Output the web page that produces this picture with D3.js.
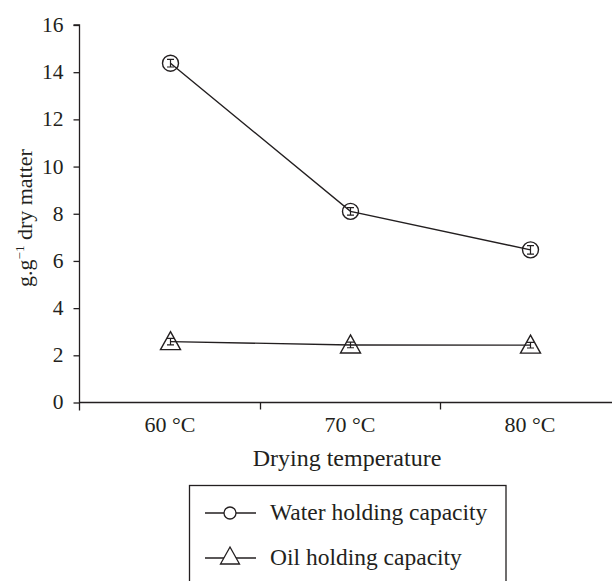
<!DOCTYPE html>
<html><head><meta charset="utf-8">
<script src="https://cdn.jsdelivr.net/npm/d3@7"></script>
<style>body{margin:0;background:#fff}svg{display:block}text{font-family:"Liberation Serif","Times New Roman",serif;fill:#231f20}</style>
</head><body><svg id="c" width="612" height="581"></svg>
<script>
const categories = ["60 °C", "70 °C", "80 °C"];
const waterValues = [14.38, 8.1, 6.47];
const waterErrors = [0.16, 0.16, 0.18];
const oilValues = [2.58, 2.44, 2.43];
const oilErrors = [0.14, 0.12, 0.12];
const yTicks = [0, 2, 4, 6, 8, 10, 12, 14, 16];
const seriesNames = ["Water holding capacity", "Oil holding capacity"];

const ink = "#231f20";
const svg = d3.select("#c");
const x = d3.scaleBand().domain(categories).range([80, 620]);
const y = d3.scaleLinear().domain([0, 16]).range([402.5, 25]);

// y axis
const ya = svg.append("g").attr("transform", "translate(79.5,0)")
  .call(d3.axisLeft(y).tickValues(yTicks).tickSize(6).tickPadding(10).tickFormat(d3.format("d")));
ya.select(".domain").attr("d", `M-6,${y(16)}H0V${y(0)+8}`).attr("stroke", ink).attr("stroke-width", 1.3);
ya.selectAll(".tick line").attr("stroke", ink).attr("stroke-width", 1.3);
ya.selectAll(".tick text").attr("font-size", 21.5).attr("fill", ink).attr("font-family", "Liberation Serif").attr("dy", "0.3em");

// x axis
const xa = svg.append("g").attr("transform", `translate(0,${y(0)})`)
  .call(d3.axisBottom(x).tickSize(0).tickPadding(14));
xa.select(".domain").attr("d", "M79.5,0H620").attr("stroke", ink).attr("stroke-width", 1.3);
xa.selectAll(".tick text").attr("font-size", 22).attr("fill", ink).attr("font-family", "Liberation Serif");
const bounds = categories.slice(1).map(c => x(c));
svg.append("g").selectAll("line").data(bounds).join("line")
  .attr("x1", d => d + 0.5).attr("x2", d => d + 0.5)
  .attr("y1", y(0)).attr("y2", y(0) + 7).attr("stroke", ink).attr("stroke-width", 1.3);

// labels
svg.append("text").attr("transform", `translate(32,218) rotate(-90)`).attr("text-anchor", "middle")
  .attr("font-size", 22).html('g.g<tspan dy="-8" font-size="13">−1</tspan><tspan dy="8"> dry matter</tspan>');
svg.append("text").attr("x", 347).attr("y", 466).attr("text-anchor", "middle").attr("font-size", 24)
  .text("Drying temperature");

const cx = c => x(c) + x.bandwidth() / 2 + 0.5;
const line = d3.line().x(d => cx(d.c)).y(d => y(d.v));
const water = categories.map((c, i) => ({c, v: waterValues[i], e: waterErrors[i]}));
const oil = categories.map((c, i) => ({c, v: oilValues[i], e: oilErrors[i]}));

function drawSeries(data, shape) {
  svg.append("path").datum(data).attr("d", line).attr("fill", "none").attr("stroke", ink).attr("stroke-width", 1.4);
  const g = svg.append("g").selectAll("g").data(data).join("g");
  if (shape === "circle") {
    g.append("circle").attr("cx", d => cx(d.c)).attr("cy", d => y(d.v)).attr("r", 8)
      .attr("fill", "none").attr("stroke", ink).attr("stroke-width", 1.4);
  } else {
    g.append("path").attr("d", d => {
      const px = cx(d.c), py = y(d.v) + 1;
      return `M${px},${py - 11}L${px + 10},${py + 7}L${px - 10},${py + 7}Z`;
    }).attr("fill", "none").attr("stroke", ink).attr("stroke-width", 1.4);
  }
  // error bars
  g.append("path").attr("d", d => {
    const px = cx(d.c), t = y(d.v + d.e), b = y(d.v - d.e);
    return `M${px - 3.5},${t}H${px + 3.5}M${px},${t}V${b}M${px - 3.5},${b}H${px + 3.5}`;
  }).attr("fill", "none").attr("stroke", ink).attr("stroke-width", 1.2);
}
drawSeries(water, "circle");
drawSeries(oil, "triangle");

// legend
const lg = svg.append("g");
lg.append("rect").attr("x", 189.5).attr("y", 485.5).attr("width", 316.5).attr("height", 110)
  .attr("fill", "none").attr("stroke", ink).attr("stroke-width", 1.3);
const ly = [513, 558];
seriesNames.forEach((n, i) => {
  lg.append("line").attr("x1", 205).attr("x2", 256).attr("y1", ly[i]).attr("y2", ly[i]).attr("stroke", ink).attr("stroke-width", 1.3);
  if (i === 0) lg.append("circle").attr("cx", 230).attr("cy", ly[i]).attr("r", 6).attr("fill", "#fff").attr("stroke", ink).attr("stroke-width", 1.3);
  else lg.append("path").attr("d", `M230,${ly[i] - 11}L239.5,${ly[i] + 6}L220.5,${ly[i] + 6}Z`).attr("fill", "#fff").attr("stroke", ink).attr("stroke-width", 1.3);
  lg.append("text").attr("x", 270).attr("y", ly[i] + 7).attr("font-size", 23.5).text(n);
});
</script></body></html>
